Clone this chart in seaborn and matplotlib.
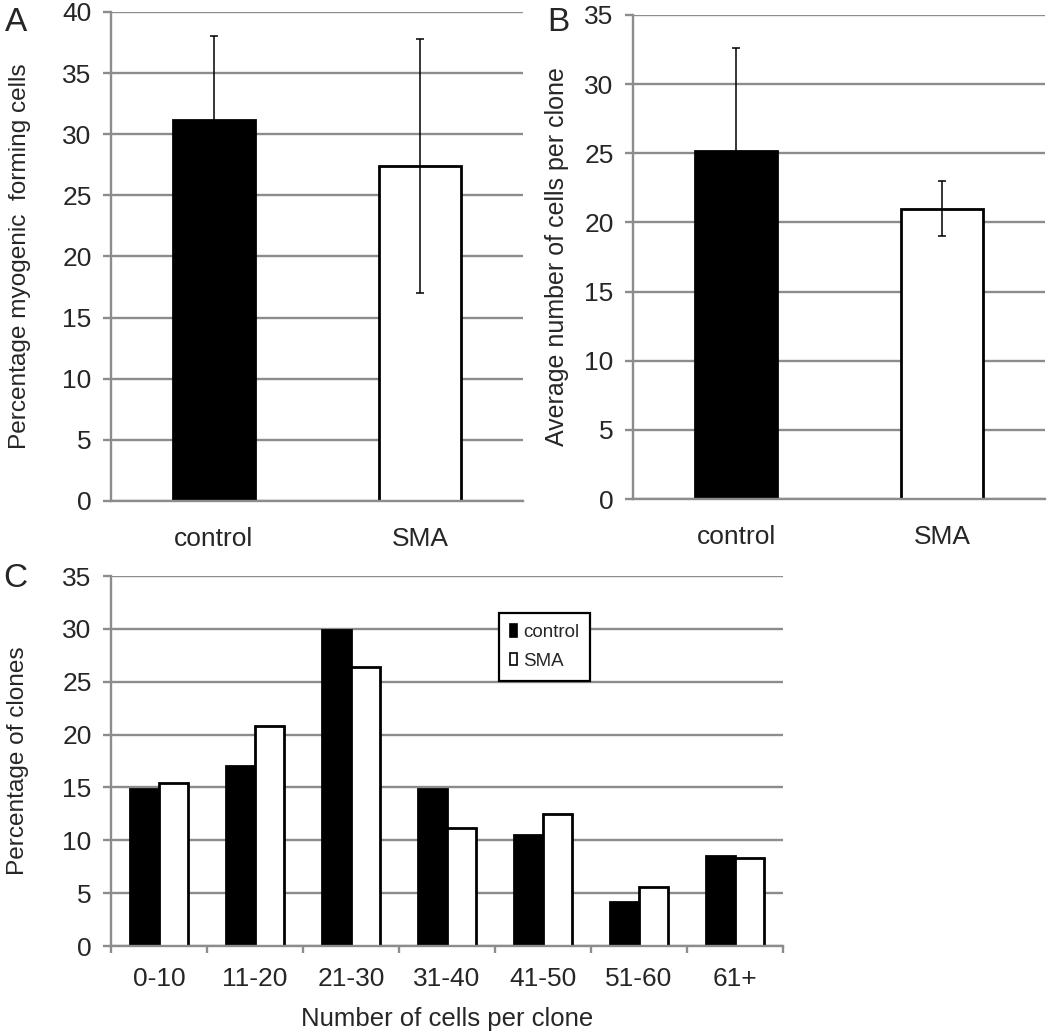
import numpy as np
import pandas as pd
import matplotlib
matplotlib.use("Agg")
import matplotlib.pyplot as plt
import seaborn as sns

# %% data
groups = ["control", "SMA"]
pct_myogenic = [31.2, 27.4]
pct_myogenic_err = [6.8, 10.4]
avg_cells = [25.2, 21.0]
avg_cells_err = [7.4, 2.0]

bins = ["0-10", "11-20", "21-30", "31-40", "41-50", "51-60", "61+"]
clones_control = [14.9, 17.0, 29.9, 14.9, 10.5, 4.2, 8.5]
clones_sma = [15.4, 20.8, 26.4, 11.2, 12.5, 5.6, 8.3]

# %% style
sns.set_style("white")
plt.rcParams["font.family"] = ["Liberation Sans", "DejaVu Sans"]
grid_col = "#8c8c8c"
colors = ["black", "white"]


def style_axis(ax, ymax, tick_size):
    ax.set_ylim(0, ymax)
    ax.set_yticks(np.arange(0, ymax + 1, 5))
    ax.grid(axis="y", color=grid_col, lw=1.7)
    ax.grid(axis="x", visible=False)
    ax.set_axisbelow(True)
    for s in ["top", "right"]:
        ax.spines[s].set_visible(False)
    for s in ["left", "bottom"]:
        ax.spines[s].set_color(grid_col)
        ax.spines[s].set_linewidth(1.7)
    ax.tick_params(axis="y", length=6, width=1.7, color=grid_col, pad=8,
                   labelsize=tick_size, left=True)
    ax.set_xlabel("")


fig = plt.figure(figsize=(10.5, 10.34), dpi=100)
axA = fig.add_axes([0.1057, 0.5155, 0.3924, 0.4729])
axB = fig.add_axes([0.6029, 0.5174, 0.3924, 0.4681])
axC = fig.add_axes([0.1057, 0.0851, 0.64, 0.3578])

# %% panel A
dfA = pd.DataFrame({"group": groups, "value": pct_myogenic})
sns.barplot(data=dfA, x="group", y="value", hue="group", palette=colors,
            edgecolor="black", linewidth=2, width=0.4, ax=axA, legend=False)
axA.errorbar(range(len(groups)), pct_myogenic, yerr=pct_myogenic_err, fmt="none",
             ecolor="black", elinewidth=1.1, capsize=3, capthick=1.1, zorder=5)
style_axis(axA, 40, 19)
axA.set_xlim(-0.5, 1.5)
axA.tick_params(axis="x", length=0, pad=19, labelsize=19)
axA.set_ylabel("Percentage myogenic  forming cells", fontsize=17.6)
axA.yaxis.set_label_coords(-0.195, 0.5)

# %% panel B
dfB = pd.DataFrame({"group": groups, "value": avg_cells})
sns.barplot(data=dfB, x="group", y="value", hue="group", palette=colors,
            edgecolor="black", linewidth=2, width=0.4, ax=axB, legend=False)
axB.errorbar(range(len(groups)), avg_cells, yerr=avg_cells_err, fmt="none",
             ecolor="black", elinewidth=1.1, capsize=3, capthick=1.1, zorder=5)
style_axis(axB, 35, 19)
axB.set_xlim(-0.5, 1.5)
axB.tick_params(axis="x", length=0, pad=19, labelsize=19)
axB.set_ylabel("Average number of cells per clone", fontsize=18)
axB.yaxis.set_label_coords(-0.155, 0.5)

# %% panel C
dfC = pd.DataFrame({
    "bin": bins * 2,
    "pct": clones_control + clones_sma,
    "group": ["control"] * len(bins) + ["SMA"] * len(bins),
})
sns.barplot(data=dfC, x="bin", y="pct", hue="group", palette=colors,
            edgecolor="black", linewidth=2, width=0.6, gap=0, ax=axC)
style_axis(axC, 35, 19)
axC.set_xlim(-0.5, len(bins) - 0.5)
axC.set_xticks(np.arange(-0.5, len(bins), 1), minor=True)
axC.tick_params(axis="x", which="major", length=0, pad=15, labelsize=19)
axC.tick_params(axis="x", which="minor", length=5, width=1.7, color=grid_col,
                bottom=True)
axC.set_ylabel("Percentage of clones", fontsize=17.6)
axC.yaxis.set_label_coords(-0.122, 0.5)
axC.set_xlabel("Number of cells per clone", fontsize=18.5)
axC.xaxis.set_label_coords(0.5, -0.165)

leg = axC.legend(loc="upper left", bbox_to_anchor=(0.577, 0.90), frameon=True,
                 fancybox=False, edgecolor="black", framealpha=1,
                 handlelength=0.4, handleheight=0.65, handletextpad=0.3,
                 borderpad=0.6, labelspacing=0.6, borderaxespad=0,
                 fontsize=13.5)
leg.get_frame().set_linewidth(1.6)
for h in leg.legend_handles:
    h.set_linewidth(1.2)

# %% panel letters
for letter, x, y in [("A", 0.015, 0.978), ("B", 0.532, 0.978), ("C", 0.015, 0.441)]:
    fig.text(x, y, letter, fontsize=24, ha="center", va="center")

fig.savefig("out.png", dpi=100)
